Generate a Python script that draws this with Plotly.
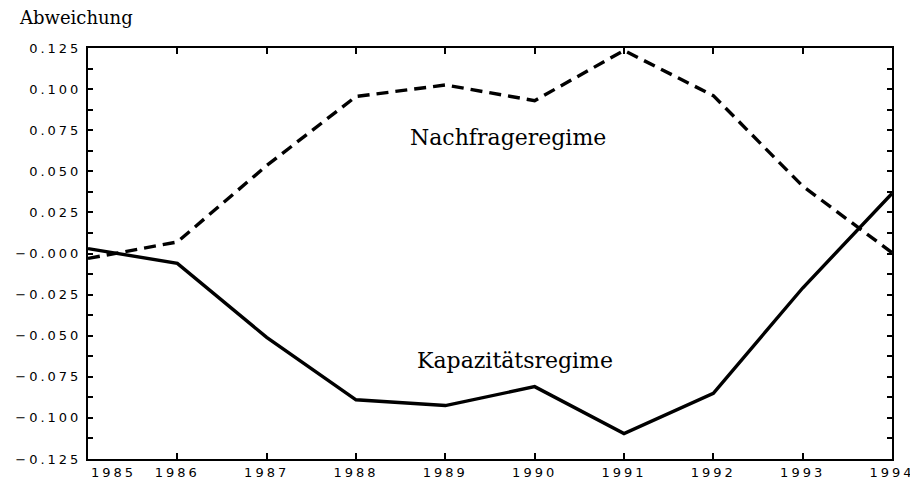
import plotly.graph_objects as go

years = [1985, 1986, 1987, 1988, 1989, 1990, 1991, 1992, 1993, 1994]
kapazitaet = [0.003, -0.006, -0.051, -0.089, -0.0925, -0.081, -0.1095, -0.085, -0.021, 0.0365]
nachfrage = [-0.003, 0.007, 0.0535, 0.0955, 0.1025, 0.093, 0.1235, 0.096, 0.041, 0.0005]

y_tickvals = [0.125, 0.1, 0.075, 0.05, 0.025, 0.0, -0.025, -0.05, -0.075, -0.1, -0.125]
y_ticktext = ["0.125", "0.100", "0.075", "0.050", "0.025", "\u22120.000",
              "\u22120.025", "\u22120.050", "\u22120.075", "\u22120.100", "\u22120.125"]
x_tickvals = [1986, 1987, 1988, 1989, 1990, 1991, 1992, 1993, 1994]
x_ticktext = [str(v) for v in x_tickvals]

fig = go.Figure()
fig.add_trace(go.Scatter(x=years, y=nachfrage, mode="lines", name="Nachfrageregime",
                         line=dict(color="black", width=3.4, dash="12px,7px")))
fig.add_trace(go.Scatter(x=years, y=kapazitaet, mode="lines", name="Kapazitätsregime",
                         line=dict(color="black", width=3.4)))

tickfont = dict(family="DejaVu Sans", size=13, color="black")
fig.update_xaxes(range=[1985, 1994], tickvals=x_tickvals, ticktext=x_ticktext,
                 ticks="inside", ticklen=6, tickwidth=1.5, tickcolor="black",
                 showline=True, linecolor="black", linewidth=2, mirror="ticks",
                 showgrid=False, zeroline=False, tickfont=tickfont, automargin=False)
fig.update_yaxes(range=[-0.125, 0.125], tickvals=y_tickvals, ticktext=y_ticktext,
                 ticks="inside", ticklen=5, tickwidth=1.5, tickcolor="black",
                 minor=dict(dtick=0.0125, tick0=0, ticks="inside", ticklen=5,
                            tickwidth=1.5, tickcolor="black", showgrid=False),
                 showline=True, linecolor="black", linewidth=2, mirror="ticks",
                 showgrid=False, zeroline=False, tickfont=tickfont,
                 ticklabelstandoff=2, automargin=False)

serif = dict(family="DejaVu Serif", size=22, color="black")
fig.add_annotation(x=1989.70, y=0.0706, text="Nachfrageregime", showarrow=False, font=serif)
fig.add_annotation(x=1989.78, y=-0.065, text="Kapazitätsregime", showarrow=False, font=serif)
fig.add_annotation(xref="paper", yref="paper", x=-0.0883, y=1.0754, xanchor="left",
                   yanchor="middle", text="Abweichung", showarrow=False,
                   font=dict(family="DejaVu Serif", size=18, color="black"))
fig.add_annotation(x=1985, xref="x", yref="paper", y=0, yanchor="top", yshift=-4,
                   xshift=25, text="1985", showarrow=False, font=tickfont)

# page body has an 8px margin; size/margins compensate so the plot lands as in the reference
fig.update_layout(width=910, height=472, margin=dict(l=80, r=26, t=40, b=21),
                  paper_bgcolor="white", plot_bgcolor="white", showlegend=False)

post = """
var gd = document.getElementsByClassName('plotly-graph-div')[0];
function spaceOut(){
  gd.querySelectorAll('g.xtick text, g.ytick text').forEach(function(t){
    t.style.letterSpacing = '3px';
  });
  gd.querySelectorAll('text.annotation-text').forEach(function(t){
    if (t.textContent === '1985') { t.style.letterSpacing = '3px'; }
  });
}
spaceOut();
gd.on('plotly_afterplot', spaceOut);
"""
fig.write_html("out.html", post_script=post)
